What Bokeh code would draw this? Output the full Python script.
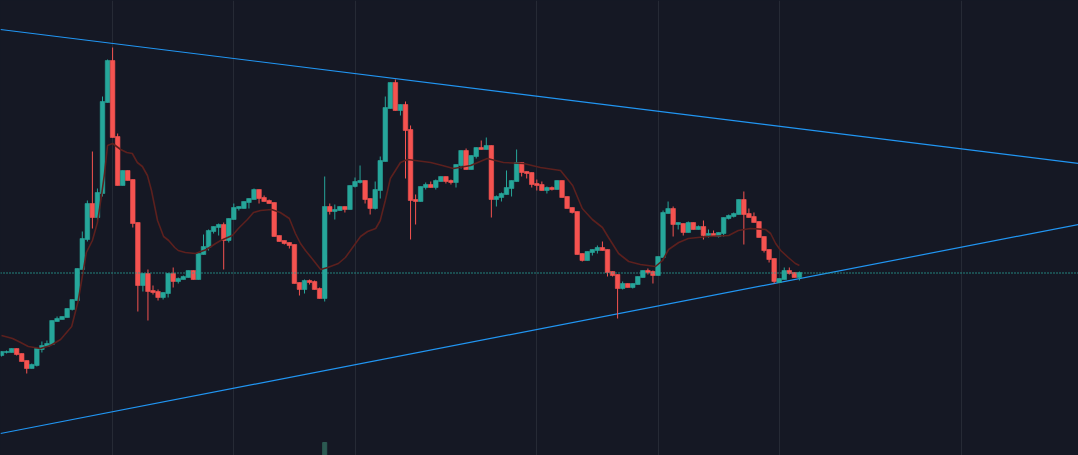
from bokeh.plotting import figure
from bokeh.models import Range1d, ColumnDataSource, FixedTicker, Span
from bokeh.embed import file_html
from bokeh.resources import INLINE

opens = [100,103,103,107,102,95,87,90,106,109,111,134,136,138,146,155,186,216,252,238,
         262,353,395,319,270,285,276,233,170,182,165,164,158,162,182,174,176,178,185,176,
         201,208,224,228,231,215,236,247,247,253,256,266,258,255,253,220,215,213,211,173,
         166,175,174,167,157,249,244,245,249,246,269,273,275,257,247,265,294,347,373,345,
         351,326,256,254,268,271,268,274,279,275,273,290,305,286,299,308,306,310,256,258,
         261,267,274,293,284,283,272,271,265,268,266,275,259,248,244,202,195,203,205,208,
         206,184,181,167,172,168,171,178,185,184,180,198,242,247,231,232,223,233,226,229,
         220,222,219,222,237,239,241,256,242,239,234,219,206,197,173,176,185,183,178]
highs = [104,105,107,107,102,95,92,107,114,115,135,139,139,147,156,187,224,255,304,267,
         359,396,408,322,285,285,276,233,182,186,170,166,163,182,188,178,180,185,185,202,
         221,226,229,232,233,237,252,249,254,257,267,266,260,256,253,220,215,213,211,173,
         176,176,175,168,279,252,251,249,249,270,278,290,275,257,274,299,359,373,376,351,
         354,330,261,269,273,274,276,279,279,276,291,305,307,300,308,315,318,310,260,263,
         285,275,306,293,284,283,276,274,269,269,275,275,259,248,244,202,204,206,210,214,
         206,184,181,174,172,172,179,185,187,185,199,245,254,249,233,232,234,233,230,235,
         226,225,223,238,241,243,256,264,247,243,234,219,206,197,177,188,188,183,184]
lows = [99,102,103,100,94,82,87,89,103,109,111,134,136,138,145,155,186,214,227,234,
        259,353,318,270,270,275,228,144,164,135,161,155,156,158,168,172,176,178,176,176,
        201,205,222,220,186,213,236,245,247,247,256,252,254,252,219,214,211,207,172,160,
        162,171,166,157,154,241,236,245,243,246,268,272,252,241,246,257,294,347,345,340,
        277,216,231,254,266,268,266,274,272,271,268,287,286,286,297,306,306,238,249,254,
        261,259,274,279,277,268,265,265,262,265,266,258,247,242,201,194,195,200,202,205,
        179,179,137,166,168,167,171,178,181,172,180,198,242,219,226,220,223,226,226,216,
        218,219,218,219,236,238,241,211,238,233,218,203,193,172,173,176,181,178,175]
closes = [104,104,107,101,94,87,91,107,110,112,135,137,139,147,156,187,217,252,238,263,
          354,395,318,270,285,275,232,170,182,164,163,158,163,182,174,177,179,185,176,202,
          209,225,229,231,215,237,248,249,254,257,266,257,254,252,219,214,212,210,172,166,
          175,173,166,157,249,244,246,249,246,270,274,275,256,247,266,295,348,373,345,351,
          325,255,254,269,271,268,275,279,274,273,291,305,286,300,308,306,310,256,259,262,
          268,275,293,283,282,271,270,265,268,266,275,258,247,243,201,195,204,206,208,205,
          183,180,167,172,168,172,179,185,183,180,199,243,247,231,233,223,233,226,229,220,
          222,219,223,238,240,242,256,241,238,233,218,205,196,174,177,185,182,178,183]

ma_index = [0,2.2,3.8,5.3,7.7,9.7,11.7,13.9,15.2,16.8,18,19,19.8,20.4,21,22,23.6,24.8,25.9,26.9,
            27.9,28.9,29.7,30.9,32.1,33.1,34.3,35,36.4,38.4,40.6,42.4,43.4,45.7,46.9,48.7,49.9,51.3,53.5,55.2,
            57,58.2,59.2,60.2,61.8,63.2,64.6,66.7,68.1,71.1,72.5,74.1,75,76,77,79,80.4,85,87.3,89.5,
            92.9,96.2,99.4,103.4,106.7,110.7,113.1,115,117,119,120.2,122.2,124.2,126.5,129.5,130.9,132.1,134.1,136,139.8,
            144,145.9,148.3,151.3,152.3,153.3,154.3,155.8,157.2,158]
ma_value = [120,117,113,109,107,110,116,129,155,203,215,233,260,282,310,312,306,303,302,293,
            289,280,265,235,219,215,208,205,203,202,206,212,215,220,227,236,243,245,246,243,
            237,222,212,205,195,186,188,192,198,219,224,227,235,255,277,293,296,293,290,287,
            290,297,293,292,288,285,270,247,236,228,218,202,194,191,189,195,206,213,217,219,
            220,225,227,226,222,212,205,198,192,190]

upper_index = [-0.2, 213.27]
upper_value = [426, 292]
lower_index = [-0.2, 213.27]
lower_value = [22, 231]
dotted_level = 182.5
grid_index = [22, 46, 70, 106, 130, 154, 190]
volume_index = [64]
volume_value = [13]

BG = "#151824"
GREEN = "#26a69a"
RED = "#f55350"
BLUE = "#2196f3"

idx = list(range(len(opens)))
bull = [c >= o for o, c in zip(opens, closes)]
src = ColumnDataSource(dict(
    x=idx, high=highs, low=lows,
    top=[max(o, c) for o, c in zip(opens, closes)],
    bottom=[min(o, c) for o, c in zip(opens, closes)],
    color=[GREEN if b else RED for b in bull],
))

p = figure(width=1078, height=455, output_backend="svg", toolbar_location=None,
           x_range=Range1d(-0.198, 213.267), y_range=Range1d(0, 455),
           background_fill_color=BG, border_fill_color=BG,
           min_border=0, outline_line_color=None)
p.styles = {"background-color": BG}
p.xaxis.visible = False
p.yaxis.visible = False
p.ygrid.visible = False
p.xgrid.ticker = FixedTicker(ticks=grid_index)
p.xgrid.grid_line_color = "#262a35"
p.xgrid.grid_line_width = 1

p.vbar(x=volume_index, top=volume_value, bottom=0, width=0.8, color="#2c5a52")
p.add_layout(Span(location=dotted_level, dimension="width", line_color=GREEN,
                  line_width=1.4, line_dash="1 2"))
p.line(upper_index, upper_value, line_color=BLUE, line_width=1.2)
p.line(lower_index, lower_value, line_color=BLUE, line_width=1.2)
p.segment("x", "high", "x", "low", source=src, line_color="color", line_width=1)
p.vbar("x", top="top", bottom="bottom", width=0.9, source=src,
       fill_color="color", line_color="color", line_width=0.6)
p.line(ma_index, ma_value, line_color="#5c201e", line_width=1.6)

open("out.html", "w").write(file_html(p, INLINE))
